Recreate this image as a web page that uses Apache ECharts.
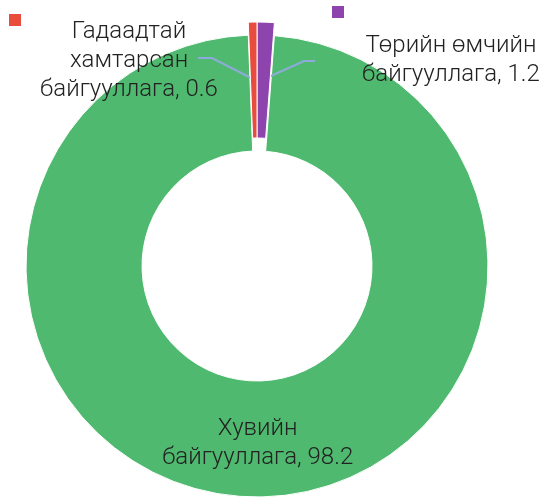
<!DOCTYPE html>
<html>
<head>
<meta charset="utf-8">
<script src="https://cdn.jsdelivr.net/npm/echarts@6/dist/echarts.min.js"></script>
<style>
  html, body { margin: 0; padding: 0; background: #fff; }
  #chart { width: 542px; height: 500px; }
</style>
</head>
<body>
<div id="chart"></div>
<script>
(function () {
    'use strict';

    // Slice order follows the picture, clockwise from 12 o'clock
    const names = ['Төрийн өмчийн байгууллага', 'Хувийн байгууллага', 'Гадаадтай хамтарсан байгууллага'];
    const values = [1.2, 98.2, 0.6];
    const colors = ['#8e44ad', '#4fba6f', '#e74c3c'];
    const pulledOut = [true, false, true];
    // the label text as it wraps in the picture
    const labelNames = ['Төрийн өмчийн\nбайгууллага', 'Хувийн\nбайгууллага', 'Гадаадтай\nхамтарсан\nбайгууллага'];

    const center = [257, 266];
    const pullOffset = 13;

    const textStyle = {
        fontFamily: 'Roboto',
        fontWeight: 300,
        fontSize: 24,
        lineHeight: 29,
        color: '#222'
    };

    // where the labels sit and how the lines bend
    const labelSpots = {
        0: { x: 451, y: 60, line: [[264, 79], [304, 61], [315, 61]] },
        2: { x: 129, y: 61, line: [[253, 79], [212, 58], [198, 58]] }
    };

    // One series per ring position: the pulled-out slices live in a second pie
    // drawn a little higher, the other slots stay as empty placeholders.
    function buildData (wantPulled) {
        return names.map(function (name, i) {
            if (pulledOut[i] !== wantPulled) {
                return {
                    name: '',
                    value: values[i],
                    itemStyle: { color: 'transparent', borderWidth: 0 },
                    label: { show: false },
                    labelLine: { show: false }
                };
            }
            return {
                name: name,
                value: values[i],
                itemStyle: { color: colors[i] },
                label: { position: wantPulled ? 'outside' : 'inside' }
            };
        });
    }

    const seriesBase = {
        type: 'pie',
        radius: [115, 231],
        startAngle: 90,
        clockwise: true,
        avoidLabelOverlap: false,
        silent: true,
        itemStyle: { borderColor: '#fff', borderWidth: 1 },
        emphasis: { disabled: true },
        label: Object.assign({
            show: true,
            align: 'center',
            formatter: function (p) { return labelNames[p.dataIndex] + ', ' + p.value; }
        }, textStyle),
        labelLine: {
            show: true,
            lineStyle: { color: '#8eaadb', width: 2 }
        },
        labelLayout: function (params) {
            const cfg = labelSpots[params.dataIndex];
            if (!cfg) {
                return { dx: 4, dy: 2 };
            }
            return {
                x: cfg.x,
                y: cfg.y,
                align: 'center',
                verticalAlign: 'middle',
                labelLinePoints: cfg.line
            };
        }
    };

    const legendBase = {
        icon: 'rect',
        itemWidth: 12,
        itemHeight: 12,
        padding: 0,
        selectedMode: false,
        itemStyle: { borderWidth: 0 },
        formatter: function () { return ''; },
        textStyle: { fontSize: 1 }
    };

    const chart = echarts.init(document.getElementById('chart'), null, { renderer: 'canvas' });
    chart.setOption({
        animation: false,
        legend: [
            Object.assign({}, legendBase, { left: 9, top: 14, data: [names[2]] }),
            Object.assign({}, legendBase, { left: 332, top: 6, data: [names[0]] })
        ],
        series: [
            Object.assign({}, seriesBase, {
                z: 2,
                center: center,
                data: buildData(false)
            }),
            Object.assign({}, seriesBase, {
                z: 3,
                center: [center[0], center[1] - pullOffset],
                data: buildData(true)
            })
        ]
    });
}());
</script>
</body>
</html>
